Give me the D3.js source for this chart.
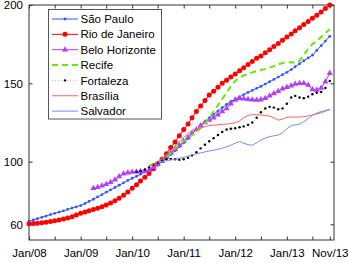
<!DOCTYPE html>
<html>
<head>
<meta charset="utf-8">
<script src="https://cdn.jsdelivr.net/npm/d3@7"></script>
<style>
  body { margin: 0; background: #fff; }
  text { font-family: "Liberation Sans", Arial, sans-serif; font-size: 11.5px; fill: #000; }
</style>
</head>
<body>
<svg></svg>
<script>
const width = 349;
const height = 263;

// monthly index values, Jan/08 .. Nov/13 (null = no data yet)
const saoPaulo = [62.0, 62.8, 63.6, 64.5, 65.3, 66.2, 67.0, 67.8, 68.6, 69.5, 70.4, 71.2,
  72.0, 73.3, 74.6, 76.0, 77.5, 79.0, 80.5, 82.0, 83.5, 85.0, 86.5, 88.0,
  89.4, 90.7, 92.0, 93.4, 95.0, 96.5, 98.0, 100.0, 102.2, 104.6, 107.0, 109.5,
  112.0, 114.8, 117.6, 120.4, 123.0, 125.6, 128.0, 130.2, 132.4, 134.5, 136.5, 138.4,
  140.0, 141.4, 142.8, 144.2, 145.5, 146.8, 148.0, 149.5, 151.0, 152.5, 154.0, 155.5,
  157.0, 158.8, 160.6, 162.5, 164.4, 166.2, 168.0, 171.0, 174.0, 177.0, 180.0];
const rio = [60.3, 60.5, 60.7, 61.0, 61.4, 61.8, 62.3, 62.8, 63.4, 64.1, 64.9, 65.9,
  67.0, 67.8, 68.6, 69.4, 70.3, 71.3, 72.3, 73.6, 75.0, 76.6, 78.5, 80.7,
  83.0, 85.3, 87.6, 90.0, 92.5, 95.5, 98.5, 101.5, 105.0, 109.0, 112.5, 116.5,
  120.5, 124.0, 128.0, 132.0, 135.5, 139.0, 142.5, 145.0, 147.5, 150.0, 152.0, 154.0,
  156.0, 158.0, 160.0, 162.0, 164.0, 166.0, 167.5, 169.5, 171.5, 173.5, 175.5, 177.5,
  179.5, 181.5, 183.5, 185.5, 187.5, 189.5, 191.5, 193.5, 195.5, 197.8, 200.0];
const beloHorizonte = [null, null, null, null, null, null, null, null, null, null, null, null,
  null, null, null, 83.0, 83.6, 84.6, 85.6, 86.8, 88.5, 90.5, 92.3, 93.0,
  93.4, 93.6, 93.8, 94.0, 94.6, 96.5, 98.5, 100.5, 103.0, 105.5, 108.0, 110.5,
  113.0, 115.5, 118.0, 120.5, 123.0, 125.0, 126.6, 128.0, 130.0, 132.0, 134.0, 137.0,
  139.4, 140.4, 140.2, 139.8, 139.5, 139.4, 139.6, 140.5, 142.0, 143.5, 145.0, 146.5,
  147.5, 148.5, 149.5, 150.0, 150.0, 149.0, 146.0, 145.8, 147.0, 151.0, 156.5];
const recife = [null, null, null, null, null, null, null, null, null, null, null, null,
  null, null, null, null, null, null, null, null, null, null, null, null,
  null, null, null, null, 97.5, 98.5, 99.5, 101.0, 103.0, 105.5, 108.5, 111.0,
  113.0, 115.0, 117.0, 119.0, 121.5, 124.5, 128.0, 132.0, 136.0, 140.0, 144.0, 148.0,
  151.5, 153.5, 155.0, 156.0, 157.0, 157.8, 158.5, 159.2, 160.0, 161.0, 162.0, 163.0,
  163.5, 163.5, 163.0, 164.5, 168.0, 172.0, 175.0, 177.0, 179.5, 182.0, 184.5];
const fortaleza = [null, null, null, null, null, null, null, null, null, null, null, null,
  null, null, null, null, null, null, null, null, null, null, null, null,
  null, 93.5, 94.0, 95.0, 96.5, 98.0, 99.5, 100.8, 101.5, 101.8, 101.5, 101.2,
  101.5, 102.5, 104.0, 106.0, 108.5, 110.8, 113.0, 115.0, 117.0, 119.0, 120.5, 121.0,
  121.3, 122.0, 122.5, 123.5, 125.0, 128.0, 131.5, 134.0, 135.0, 134.5, 133.5, 134.0,
  137.0, 141.0, 142.0, 141.0, 140.5, 141.5, 143.0, 144.0, 144.5, 147.0, 151.5];
const brasilia = [null, null, null, null, null, null, null, null, null, null, null, null,
  null, null, null, null, null, null, null, null, null, null, null, null,
  null, null, null, null, 97.0, 98.5, 100.0, 102.0, 104.5, 107.0, 110.0, 113.0,
  115.5, 118.0, 120.0, 121.0, 121.5, 122.5, 123.0, 123.3, 123.5, 123.8, 124.0, 124.3,
  124.8, 126.0, 128.0, 129.5, 130.0, 130.0, 129.8, 129.5, 129.0, 128.0, 126.5, 127.2,
  128.3, 128.5, 128.5, 128.5, 128.7, 129.2, 129.8, 130.4, 131.2, 132.2, 133.2];
const salvador = [null, null, null, null, null, null, null, null, null, null, null, null,
  null, null, null, null, null, null, null, null, null, null, null, null,
  null, null, null, null, null, null, 99.8, 100.2, 100.6, 101.0, 101.6, 102.2,
  102.8, 103.5, 104.3, 105.0, 105.6, 106.2, 106.8, 107.3, 107.9, 108.6, 109.5, 110.5,
  111.8, 112.8, 111.8, 110.8, 110.5, 112.0, 113.8, 115.0, 116.0, 116.5, 117.0, 118.5,
  121.0, 123.0, 123.5, 124.0, 125.5, 127.5, 129.5, 131.0, 132.0, 132.7, 133.3];

const cityNames = ["São Paulo", "Rio de Janeiro", "Belo Horizonte", "Recife", "Fortaleza", "Brasília", "Salvador"];
const yTicks = [60, 100, 150, 200];
const xTickLabels = ["Jan/08", "Jan/09", "Jan/10", "Jan/11", "Jan/12", "Jan/13", "Nov/13"];

const months = d3.timeMonth.range(new Date(2008, 0, 1), new Date(2013, 11, 1));

const styles = [
  {values: saoPaulo, color: "#2f55ff", width: 1, dash: null, marker: "dot", r: 1.4},
  {values: rio, color: "#ff0000", width: 1, dash: null, marker: "dot", r: 2.5},
  {values: beloHorizonte, color: "#b23cff", width: 1, dash: null, marker: "tri", r: 16},
  {values: recife, color: "#5cf000", width: 2, dash: "6,4", marker: null},
  {values: fortaleza, color: "#999", width: 0.6, dash: "1,2", marker: "dot", r: 1.2, mcolor: "#000"},
  {values: brasilia, color: "#ff6060", width: 1, dash: null, marker: null},
  {values: salvador, color: "#6f8cff", width: 1, dash: null, marker: null}
];

const svg = d3.select("svg").attr("width", width).attr("height", height);

const x = d3.scaleTime()
  .domain([new Date(2008, 0, 1), new Date(2013, 11, 1)])
  .range([29, 334]);
const y = d3.scaleLinear().domain([50, 200]).range([240, 5]);

const xTickDates = d3.timeMonth.every(6).range(new Date(2008, 0, 1), new Date(2013, 7, 1))
  .concat([new Date(2013, 10, 1)]);
const fmt = d => {
  const s = d3.timeFormat("%b/%y")(d);
  return xTickLabels.includes(s) ? s : "";
};

const axisColor = "#333";
function styleAxis(g) {
  g.select(".domain").remove();
  g.selectAll("line").attr("stroke", axisColor);
}

svg.append("g").attr("transform", "translate(0,240)")
  .call(d3.axisBottom(x).tickValues(xTickDates).tickFormat(fmt).tickSizeInner(-3.5).tickSizeOuter(0).tickPadding(9))
  .call(styleAxis)
  .selectAll("text").attr("font-size", null).attr("font-family", null);
svg.append("g").attr("transform", "translate(0,5)")
  .call(d3.axisTop(x).tickValues(xTickDates).tickFormat("").tickSizeInner(-3.5).tickSizeOuter(0))
  .call(styleAxis);
svg.append("g").attr("transform", "translate(29,0)")
  .call(d3.axisLeft(y).tickValues(yTicks).tickSizeInner(-3.5).tickSizeOuter(0).tickPadding(6))
  .call(styleAxis)
  .selectAll("text").attr("font-size", null).attr("font-family", null);
svg.append("g").attr("transform", "translate(334,0)")
  .call(d3.axisRight(y).tickValues(yTicks).tickFormat("").tickSizeInner(-3.5).tickSizeOuter(0))
  .call(styleAxis);

svg.append("rect")
  .attr("x", 29).attr("y", 5).attr("width", 305).attr("height", 235)
  .attr("fill", "none").attr("stroke", axisColor).attr("stroke-width", 1);

const line = d3.line()
  .defined(d => d.v != null)
  .x(d => x(d.date))
  .y(d => y(d.v));

const plot = svg.append("g");

styles.forEach(s => {
  const pts = s.values.map((v, i) => ({date: months[i], v: v}));
  plot.append("path")
    .datum(pts)
    .attr("d", line)
    .attr("fill", "none")
    .attr("stroke", s.color)
    .attr("stroke-width", s.width)
    .attr("stroke-dasharray", s.dash);
  const valid = pts.filter(d => d.v != null);
  if (s.marker === "dot") {
    plot.append("g").selectAll("circle")
      .data(valid).enter().append("circle")
      .attr("cx", d => x(d.date))
      .attr("cy", d => y(d.v))
      .attr("r", s.r)
      .attr("fill", s.mcolor || s.color);
  } else if (s.marker === "tri") {
    plot.append("g").selectAll("path")
      .data(valid).enter().append("path")
      .attr("d", d3.symbol().type(d3.symbolTriangle).size(s.r))
      .attr("transform", d => `translate(${x(d.date)},${y(d.v)})`)
      .attr("fill", s.color);
  }
});

// legend
const legend = svg.append("g");
legend.append("rect")
  .attr("x", 48.5).attr("y", 9.5).attr("width", 113).attr("height", 109.5)
  .attr("fill", "#fff").attr("stroke", "#555");

cityNames.forEach((name, i) => {
  const s = styles[i];
  const ly = 19 + i * 15.35;
  legend.append("line")
    .attr("x1", 52).attr("x2", 78).attr("y1", ly).attr("y2", ly)
    .attr("stroke", s.color).attr("stroke-width", s.width)
    .attr("stroke-dasharray", s.dash);
  if (s.marker === "dot") {
    legend.append("circle").attr("cx", 65).attr("cy", ly).attr("r", s.r)
      .attr("fill", s.mcolor || s.color);
  } else if (s.marker === "tri") {
    legend.append("path")
      .attr("d", d3.symbol().type(d3.symbolTriangle).size(s.r))
      .attr("transform", `translate(65,${ly})`)
      .attr("fill", s.color);
  }
  legend.append("text")
    .attr("x", 80.5).attr("y", ly).attr("dy", "0.36em")
    .text(name);
});
</script>
</body>
</html>
